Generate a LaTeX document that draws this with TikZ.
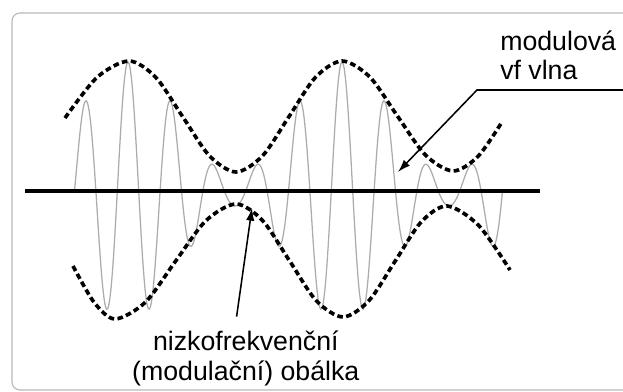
\documentclass[tikz,border=0pt]{standalone}
\usepackage{fontspec}
\setmainfont{Liberation Sans}
\usetikzlibrary{arrows.meta}

\begin{document}
\begin{tikzpicture}[x=1.0cm,y=1.0cm,
  arr/.style={-{Latex[length=9pt,width=6pt]},line width=1.1pt},
  envline/.style={line width=2.6pt,dash pattern=on 4pt off 2.4pt},
  carrier/.style={gray!65,line width=0.9pt},
  lbl/.style={font=\fontsize{19}{21}\selectfont,inner sep=0pt}]
\useasboundingbox (-0.625,-5.025) rectangle (14.95,4.775);
\clip (-0.625,-5.025) rectangle (14.95,4.775);
% frame
\draw[gray!55,line width=0.8pt,rounded corners=0.2cm] (-0.325,-4.975) rectangle (16,4.45);
% modulated carrier
\draw[carrier] plot[domain=1.2375:11.9375,samples=401,smooth]
  (\x,{(1.8+1.425*cos(360*(\x-2.575)/5.35))*sin(360*(\x-1.2375)/1.07)});
% axis
\draw[line width=2.2pt] (0,0) -- (12.875,0);
% envelopes
\draw[envline] plot[smooth] coordinates {(1.0,1.825) (1.8,2.84) (2.6,3.25) (3.27,2.84)
  (3.94,1.86) (4.61,0.88) (5.275,0.475) (5.94,0.88) (6.6,1.86) (7.26,2.84) (7.925,3.25)
  (8.62,2.85) (9.31,1.875) (10.01,0.9) (10.7,0.5) (11.325,0.865) (11.925,1.725)};
\draw[envline] plot[smooth] coordinates {(1.2,-1.875) (1.725,-2.78) (2.25,-3.2) (3.01,-2.78)
  (3.76,-1.76) (4.52,-0.745) (5.275,-0.325) (5.94,-0.74) (6.61,-1.74) (7.28,-2.74) (7.95,-3.15)
  (8.6,-2.74) (9.25,-1.76) (9.9,-0.78) (10.55,-0.375) (11.34,-0.86) (12.125,-1.975)};
% labels
\node[lbl,align=left,anchor=north west] (vf) at (11.875,4.02) {modulová\\vf vlna};
\node[lbl,align=center,anchor=north] (nf) at (5.52,-3.5) {nizkofrekvenční\\(modulační) obálka};
\coordinate (vfend) at (15.0,2.525);
\coordinate (vfknee) at (11.3,2.525);
\coordinate (vftip) at (9.325,0.475);
\draw[arr] (vfend) -- (vfknee) -- (vftip);
\coordinate (nftail) at (5.29,-3.14);
\coordinate (nftip) at (5.675,-0.425);
\draw[arr] (nftail) -- (nftip);
\end{tikzpicture}
\end{document}
